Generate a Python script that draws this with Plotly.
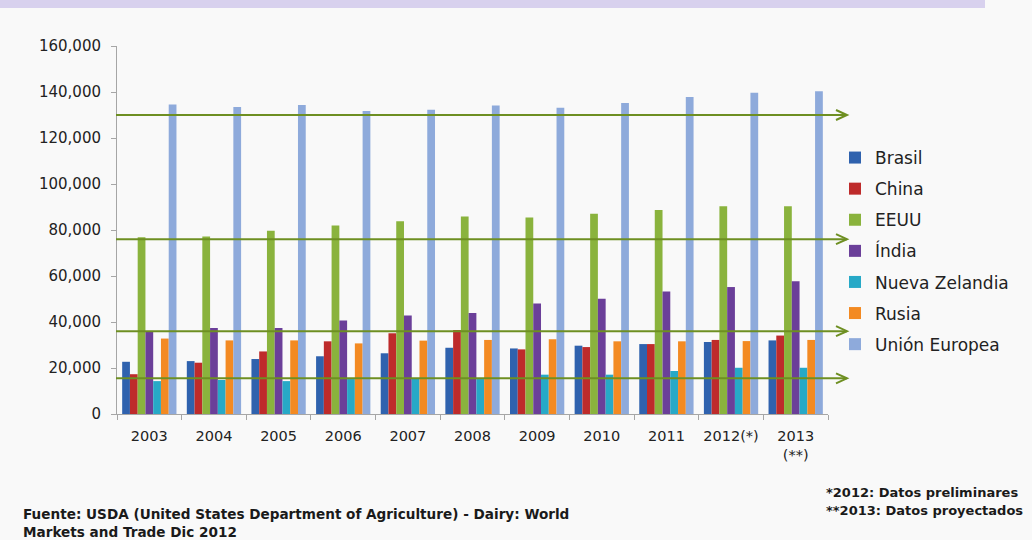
import plotly.graph_objects as go

years = ["2003", "2004", "2005", "2006", "2007", "2008", "2009", "2010", "2011", "2012(*)", "2013<br>(**)"]

brasil = [22700, 23000, 23900, 25100, 26400, 28800, 28500, 29700, 30400, 31300, 32000]
china = [17300, 22300, 27200, 31600, 35100, 36500, 28100, 29100, 30400, 32200, 34100]
eeuu = [76800, 77200, 79700, 82000, 83800, 85900, 85400, 87100, 88700, 90300, 90300]
india = [36100, 37400, 37400, 40700, 42800, 43900, 48000, 50100, 53300, 55200, 57700]
nueva_zelandia = [14300, 14800, 14300, 15200, 15500, 15200, 17100, 17100, 18700, 20100, 20100]
rusia = [32800, 32000, 32000, 30700, 31900, 32200, 32500, 31600, 31600, 31700, 32200]
union_europea = [134600, 133500, 134300, 131700, 132300, 134100, 133200, 135200, 137800, 139700, 140300]

series_names = ["Brasil", "China", "EEUU", "Índia", "Nueva Zelandia", "Rusia", "Unión Europea"]
series_values = [brasil, china, eeuu, india, nueva_zelandia, rusia, union_europea]
series_colors = ["#2F62AE", "#BE2B2B", "#8AB33D", "#6B3F99", "#27A9C7", "#F38A22", "#8EAADB"]

y_ticks = [0, 20000, 40000, 60000, 80000, 100000, 120000, 140000, 160000]
arrow_levels = [130000, 76000, 36000, 15500]

# layout geometry in pixels
W, H = 1032, 540
PL, PR, PT, PB = 117, 828, 46, 414


def px_x(px):
    return (px - PL) / (PR - PL)


def px_y(py):
    return (PB - py) / (PB - PT)


fig = go.Figure()
for name, vals, col in zip(series_names, series_values, series_colors):
    fig.add_trace(go.Bar(
        name=name, x=years, y=vals, marker_color=col,
        marker_line_width=0, legendgroup=name,
    ))

shapes = []
# decorative lavender band at top
shapes.append(dict(type="rect", xref="paper", yref="paper",
                   x0=px_x(0), x1=px_x(985), y0=px_y(0), y1=px_y(8),
                   fillcolor="#D8D1EE", line_width=0, layer="below"))

line_col = "#6E8F22"
ymax = y_ticks[-1]
per_px = ymax / (PB - PT)
tip_x = px_x(847)
back_x = px_x(836)
for lv in arrow_levels:
    shapes.append(dict(type="line", xref="paper", yref="y",
                       x0=px_x(116), x1=tip_x, y0=lv, y1=lv,
                       line=dict(color=line_col, width=2)))
    shapes.append(dict(type="path", xref="paper", yref="y",
                       path=f"M {back_x} {lv + 5 * per_px} L {tip_x} {lv} L {back_x} {lv - 5 * per_px}",
                       line=dict(color=line_col, width=2)))

note_font = dict(family="DejaVu Sans", size=13.6, color="#1a1a1a")
side_font = dict(family="DejaVu Sans", size=13, color="#1a1a1a")
annotations = [
    dict(text="<b>Fuente: USDA (United States Department of Agriculture) - Dairy: World<br>Markets and Trade Dic 2012</b>",
         xref="paper", yref="paper", x=px_x(21), y=px_y(523), xanchor="left", yanchor="middle",
         align="left", showarrow=False, font=note_font),
    dict(text="<b>*2012: Datos preliminares</b>",
         xref="paper", yref="paper", x=px_x(824), y=px_y(492), xanchor="left", yanchor="middle",
         showarrow=False, font=side_font),
    dict(text="<b>**2013: Datos proyectados</b>",
         xref="paper", yref="paper", x=px_x(824), y=px_y(510), xanchor="left", yanchor="middle",
         showarrow=False, font=side_font),
]

fig.update_layout(
    width=W, height=H,
    margin=dict(l=PL, r=W - PR, t=PT, b=H - PB, pad=0),
    paper_bgcolor="#F9F9F9", plot_bgcolor="#F9F9F9",
    barmode="group", bargap=0.16, bargroupgap=0,
    font=dict(family="DejaVu Sans", color="#222222"),
    legend=dict(x=px_x(835), y=px_y(140), xanchor="left", yanchor="top",
                font=dict(family="DejaVu Sans", size=17, color="#222222"),
                tracegroupgap=6, bgcolor="rgba(0,0,0,0)", itemclick=False),
    shapes=shapes, annotations=annotations,
    showlegend=True,
)
fig.update_xaxes(type="category", showline=True, linecolor="#A6A6A6", linewidth=1,
                 ticks="outside", tickson="boundaries", ticklen=5, tickcolor="#A6A6A6",
                 ticklabelstandoff=9, tickangle=0,
                 tickfont=dict(family="DejaVu Sans", size=14.5, color="#222222"),
                 showgrid=False, fixedrange=True)
fig.update_yaxes(range=[0, ymax], tickvals=y_ticks, tickformat=",d", showline=True,
                 linecolor="#A6A6A6", linewidth=1, ticks="outside", ticklen=5,
                 tickcolor="#A6A6A6", showgrid=False, zeroline=False,
                 ticklabelstandoff=7,
                 tickfont=dict(family="DejaVu Sans", size=15, color="#222222"),
                 fixedrange=True)

fig.write_html("out.html")
